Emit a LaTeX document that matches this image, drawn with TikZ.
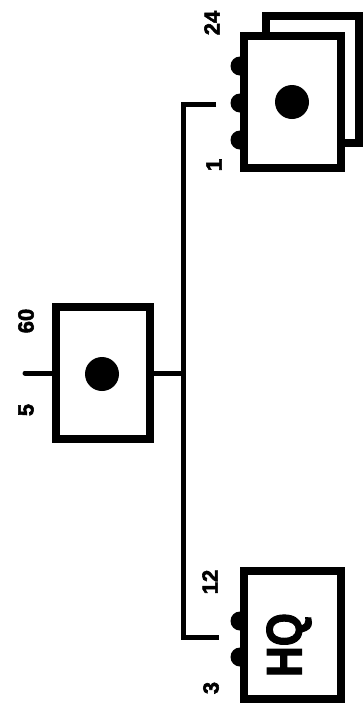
\documentclass[tikz,border=0pt]{standalone}
\usepackage{fontspec}
\setmainfont{Liberation Sans}[BoldFeatures={FakeBold=2.5}]
\begin{document}
\begin{tikzpicture}[x=1pt,y=1pt,
  box/.style={draw=black,fill=white,line width=8pt,rectangle,inner sep=0pt},
  conn/.style={draw=black,line width=5pt},
  tab/.style={fill=black,circle,inner sep=0pt,minimum size=19pt},
  dotmark/.style={fill=black,circle,inner sep=0pt,minimum size=34pt},
  lbl/.style={rotate=90,font=\fontsize{22}{22}\selectfont\bfseries,inner sep=0pt}]
\useasboundingbox[fill=white] (0,0) rectangle (364,-705);
% tabs (drawn first, boxes cover their right halves)
\node[tab] (t24) at (240,-66) {};
\node[tab] (tmid) at (240,-103) {};
\node[tab] (t1) at (240,-140) {};
\node[tab] (t12) at (240,-621) {};
\node[tab] (t3) at (240,-657) {};
% boxes
\node[box,minimum width=93pt,minimum height=127pt] (back) at (312.5,-79.5) {};
\node[box,minimum width=97pt,minimum height=132pt] (front) at (292.5,-102) {};
\node[box,minimum width=94pt,minimum height=132pt] (mid) at (103,-373) {};
\node[box,minimum width=97pt,minimum height=128pt] (hq) at (292.5,-635) {};
\node[dotmark] (fdot) at (292,-102) {};
\node[dotmark] (mdot) at (102,-374) {};
\node[rotate=90,font=\fontsize{50}{50}\selectfont\bfseries,inner sep=0pt] (hqtext) at (289,-645) {\scalebox{0.85}[1]{HQ}};
% connectors
\coordinate (bus) at (183,-373);
\coordinate (tEnd) at (216,-104);
\coordinate (tCorner) at (183,-104);
\coordinate (bCorner) at (183,-637);
\coordinate (bEnd) at (219,-637);
\coordinate (stub) at (25,-373);
\draw[conn] (mid.east) -- (bus);
\draw[conn] (tEnd) -- (tCorner) -- (bCorner) -- (bEnd);
\draw[conn,line cap=round] (mid.west) -- (stub);
% labels
\node[lbl] (l60) at (26,-321) {60};
\node[lbl] (l5) at (26,-410) {5};
\node[lbl] (l24) at (212,-23) {24};
\node[lbl] (l1) at (214,-165) {1};
\node[lbl] (l12) at (210,-582) {12};
\node[lbl] (l3) at (211,-688) {3};
\end{tikzpicture}
\end{document}
